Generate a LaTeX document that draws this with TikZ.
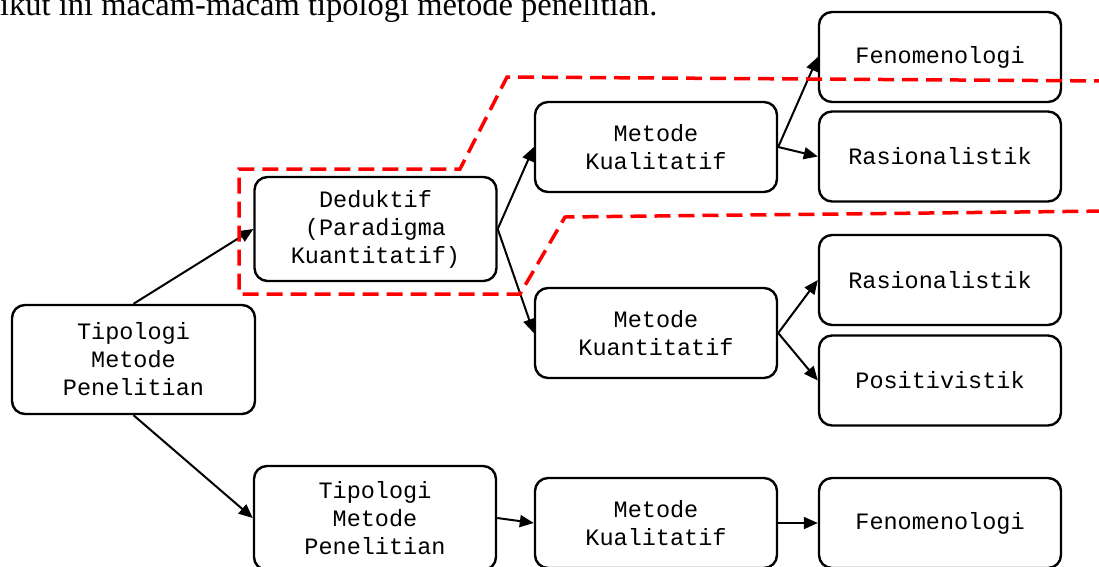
\documentclass[tikz,border=0pt]{standalone}
\usepackage{fontspec}
\setmainfont{Liberation Serif}
\setmonofont{Liberation Mono}
\usetikzlibrary{arrows.meta}

\begin{document}
\begin{tikzpicture}[x=1pt, y=-1pt, >={Triangle[length=14pt,width=12pt]},
  kotak/.style={draw, line width=2.4pt, rounded corners=13pt, minimum width=242pt,
    minimum height=90pt, align=center, inner sep=0pt,
    font=\ttfamily\fontsize{23.5}{28}\selectfont},
  panah/.style={->, line width=2pt},
  batas/.style={red, line width=3.5pt, dash pattern=on 16pt off 8pt}]
\clip (0,0) rectangle (1099,566);
\node[anchor=base west, inner sep=0pt, font=\fontsize{32.5}{36}\selectfont] (judul) at (0,15)
  {ikut ini macam-macam tipologi metode penelitian.};
\node[kotak, minimum width=243pt, minimum height=109pt] (tipologi) at (133.5,359.5) {Tipologi\\Metode\\Penelitian};
\node[kotak, minimum height=104pt] (deduktif) at (375.5,229) {Deduktif\\(Paradigma\\Kuantitatif)};
\node[kotak, minimum height=104pt] (tipologi2) at (375,518) {Tipologi\\Metode\\Penelitian};
\node[kotak] (kualitatif) at (656,147) {Metode\\Kualitatif};
\node[kotak] (kuantitatif) at (656,333) {Metode\\Kuantitatif};
\node[kotak] (kualitatif2) at (656,523) {Metode\\Kualitatif};
\node[kotak] (fenomenologi) at (940,57) {Fenomenologi};
\node[kotak] (rasionalistik) at (940,156.5) {Rasionalistik};
\node[kotak] (rasionalistik2) at (940,280) {Rasionalistik};
\node[kotak] (positivistik) at (940,380.5) {Positivistik};
\node[kotak] (fenomenologi2) at (940,523) {Fenomenologi};
\draw[panah] (tipologi.north) -- (deduktif.west);
\draw[panah] (tipologi.south) -- (tipologi2.west);
\draw[panah] (deduktif.east) -- (kualitatif.west);
\draw[panah] (deduktif.east) -- (kuantitatif.west);
\draw[panah] (tipologi2.east) -- (kualitatif2.west);
\draw[panah] (kualitatif.east) -- (fenomenologi.west);
\draw[panah] (kualitatif.east) -- (rasionalistik.west);
\draw[panah] (kuantitatif.east) -- (rasionalistik2.west);
\draw[panah] (kuantitatif.east) -- (positivistik.west);
\draw[panah] (kualitatif2.east) -- (fenomenologi2.west);
% garis putus-putus merah
\draw[batas] (1110,81) -- (507,77) -- (460,169) -- (239,169) -- (239,294)
  -- (520,294) -- (565,217) -- (1110,211);
\end{tikzpicture}
\end{document}
